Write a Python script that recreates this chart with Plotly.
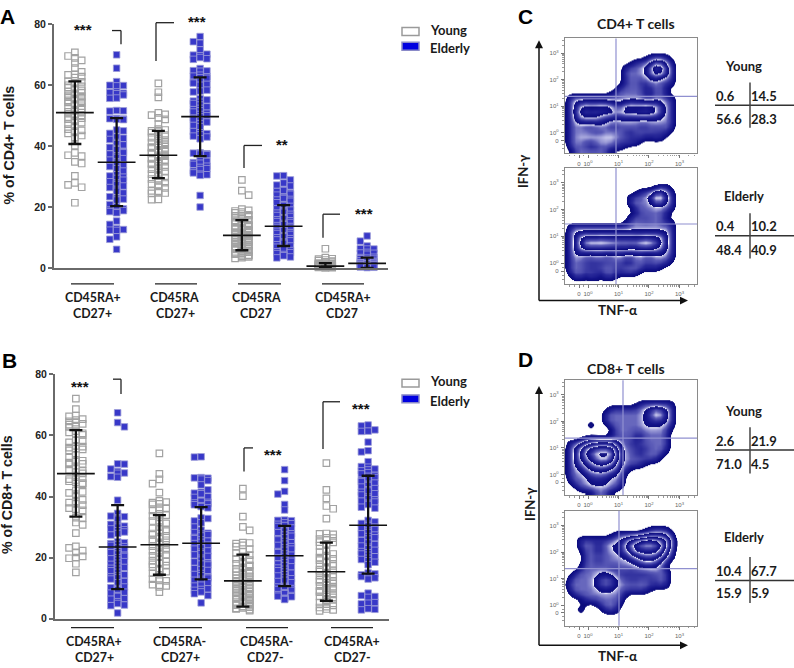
import math
import plotly.graph_objects as go

W, H = 794, 668

# ---------- Panel A values (% of CD4+ T cells) ----------
A1_young = [70.8,69.6,69.0,68.2,67.3,65.6,64.4,63.6,63.4,62.8,62.5,61.3,61.1,60.8,60.5,60.0,59.6,59.3,59.0,58.6,58.3,58.0,57.6,57.3,57.0,56.7,56.4,56.1,55.9,55.7,55.5,55.3,55.0,54.7,54.4,54.1,53.8,53.4,53.1,52.7,52.3,52.0,51.6,51.3,51.0,50.7,50.4,50.1,49.8,49.5,49.2,48.9,48.5,48.1,47.7,47.2,46.6,45.6,45.2,44.9,44.5,44.2,43.5,42.9,42.7,40.2,37.8,37.0,36.7,34.8,34.3,30.2,27.9,27.3,26.5,21.4]
A1_elderly = [70.0,65.6,61.2,60.0,59.9,59.8,57.8,57.6,57.4,57.2,56.8,55.8,55.7,51.7,51.6,51.5,49.1,49.0,48.9,48.8,48.7,45.3,45.0,44.2,43.0,42.6,42.2,41.2,40.8,40.4,39.6,39.2,38.8,38.2,37.8,37.4,36.8,36.3,35.9,35.4,34.9,34.4,33.8,33.3,32.6,31.8,30.6,30.2,29.8,29.4,28.8,28.3,27.9,27.4,26.9,26.4,25.8,25.2,24.6,23.4,22.9,22.6,22.3,20.8,20.1,19.4,19.2,19.0,18.8,18.5,18.3,18.1,15.4,14.3,12.9,12.6,12.4,12.3,10.2,9.4,6.1]
A2_young = [60.6,57.7,56.0,50.9,50.4,50.2,49.3,48.8,47.2,45.6,45.3,45.0,44.8,44.4,44.0,43.6,43.2,42.8,42.4,42.0,41.6,41.2,40.9,40.6,40.3,40.0,39.7,39.4,39.1,38.8,38.5,38.2,37.9,37.6,37.3,37.0,36.7,36.4,36.1,35.8,35.5,35.2,34.9,34.6,34.3,34.0,33.6,33.2,32.8,32.4,32.0,31.6,31.2,30.8,30.2,29.7,29.2,28.6,28.0,27.6,27.2,26.8,26.3,25.3,25.2,25.0,24.6,24.5,22.5,22.4]
A2_elderly = [76.0,74.3,73.8,71.6,70.2,69.9,69.7,69.1,68.7,68.5,65.5,64.8,64.7,64.6,63.3,63.0,62.8,62.5,62.3,61.3,61.0,60.7,60.3,60.0,58.4,58.1,57.8,55.6,55.2,54.8,54.4,54.0,53.5,52.9,52.4,52.0,51.6,51.2,50.8,50.4,50.0,49.6,49.2,48.8,48.4,47.9,47.4,46.8,46.4,44.8,44.4,44.1,43.7,43.3,43.0,42.4,37.8,37.7,37.5,37.4,37.2,35.2,35.0,34.6,34.4,34.0,33.4,33.0,32.6,32.3,31.8,31.2,30.8,30.6,30.4,23.8,20.0]
A3_young = [28.9,25.4,23.9,19.3,18.9,18.7,18.3,18.1,17.7,17.4,17.1,16.7,16.5,16.0,15.8,15.4,15.2,14.8,14.6,14.2,13.9,13.7,13.3,13.0,12.8,12.4,12.2,11.8,11.5,11.3,10.9,10.7,10.3,10.0,9.8,9.4,9.2,8.8,8.5,8.3,7.9,7.6,7.4,7.0,6.7,6.5,6.1,5.8,5.6,5.2,4.9,4.7,4.3,4.0,3.8,3.4,3.1,11.6,10.2,9.0,8.1,7.2,12.9,13.5,6.3,5.0,4.5,14.1,13.1,12.6,12.0,11.1,10.5,9.6,8.9,8.6,7.8,7.1,6.9,6.2,5.4,4.8,4.2,15.1,15.6,16.3,17.2,3.6]
A3_elderly = [30.3,30.2,28.9,27.9,27.2,26.9,25.6,25.4,25.1,24.6,24.2,23.9,23.2,22.8,22.5,22.3,21.9,21.4,20.8,20.5,20.2,19.4,19.0,18.7,18.3,18.0,17.6,17.2,16.9,16.5,16.2,15.8,15.5,15.2,14.9,14.6,14.2,13.9,13.6,13.3,13.0,12.6,12.3,12.0,11.6,11.3,11.0,10.6,10.2,9.9,9.6,9.2,8.9,8.5,8.1,7.6,7.2,6.8,6.4,6.0,5.7,5.3,5.0,4.7,4.4,4.0,3.6,3.3]
A4_young = [6.3,3.4,3.0,2.9,2.6,2.4,2.2,2.0,1.9,1.8,1.6,1.5,1.4,1.3,1.2,1.1,1.0,0.9,0.9,0.8,0.8,0.7,0.7,0.6,0.6,0.5,0.5,0.4,0.4,0.4,0.3,0.3,0.3,0.2,0.2,0.2,0.1,0.1]
A4_elderly = [10.5,8.8,7.2,6.3,6.2,6.2,5.1,4.9,4.8,4.5,3.5,3.4,3.2,3.0,2.9,2.7,2.5,2.3,2.2,2.0,1.9,1.7,1.6,1.5,1.4,1.3,1.2,1.1,1.0,0.9,0.8,0.7,0.6,0.5,0.4,0.3,0.2,0.1]

# ---------- Panel B values (% of CD8+ T cells) ----------
B1_young = [72.0,68.6,66.5,66.2,65.3,65.0,64.6,64.2,63.8,63.5,63.2,62.8,61.4,61.0,60.7,60.5,60.2,58.4,58.1,57.7,56.6,56.3,56.0,55.7,55.4,55.1,53.6,52.7,52.0,51.7,51.4,51.1,50.7,50.5,49.0,48.7,48.4,48.0,47.6,46.3,46.0,45.7,45.4,45.0,44.7,44.4,44.0,42.0,41.5,41.2,40.8,40.3,38.9,38.4,38.0,37.6,37.2,36.2,35.9,35.7,35.5,33.1,33.0,31.5,30.7,28.0,23.7,23.2,22.3,21.7,20.4,20.0,19.8,18.0,15.2]
B1_elderly = [67.4,64.2,62.8,50.7,50.6,49.0,48.2,47.7,47.6,46.5,46.3,38.8,34.5,33.6,33.4,33.0,32.6,30.9,30.6,30.3,30.0,29.4,29.1,28.8,28.4,27.9,27.4,25.2,24.9,24.6,24.3,24.0,23.6,23.2,22.8,22.2,21.9,21.6,21.2,20.8,20.4,20.0,19.6,19.2,18.7,18.2,17.8,17.2,16.8,16.5,16.2,15.7,15.2,14.4,14.0,13.7,13.4,13.0,12.2,11.8,10.4,10.2,9.9,9.5,8.7,8.4,7.6,7.3,6.6,6.4,5.6,5.0,4.5,4.3,1.9]
B2_young = [54.1,47.4,45.6,44.2,41.3,38.6,38.2,38.0,37.6,37.4,36.2,35.9,35.5,34.3,33.9,33.7,33.2,32.0,31.6,31.2,30.0,29.6,29.3,29.0,28.7,28.3,27.9,27.5,27.1,26.8,26.4,26.0,25.7,25.3,25.0,24.6,24.2,23.8,23.4,23.0,22.6,22.2,21.8,21.4,21.0,20.6,20.2,19.0,18.7,18.4,18.1,17.8,17.4,16.9,16.4,15.9,15.4,14.9,14.4,13.0,12.7,12.4,11.2,11.0,10.8,10.4,8.7]
B2_elderly = [53.0,52.9,46.2,46.1,46.0,45.7,45.2,43.8,42.2,41.4,41.1,40.9,39.9,39.7,38.6,38.4,38.1,37.9,37.6,37.3,37.0,36.7,36.3,33.0,32.8,32.0,31.4,30.0,29.0,28.2,28.0,27.7,27.5,27.1,26.6,26.2,25.8,25.4,25.0,24.6,24.1,23.7,23.2,22.8,22.2,21.8,21.3,20.9,20.4,19.8,19.2,18.6,18.2,17.9,17.6,16.4,16.1,15.8,14.8,14.5,14.1,13.7,13.3,12.9,12.6,12.3,11.8,11.0,10.7,9.8,9.6,9.3,8.8,8.2,7.6,5.2]
B3_young = [42.6,40.1,33.4,30.1,28.9,24.9,24.8,24.6,24.0,23.6,22.8,22.0,21.5,20.8,20.4,20.1,19.6,19.2,18.7,18.4,18.0,17.5,17.2,16.8,16.3,16.0,15.7,15.3,15.1,14.8,14.4,14.2,13.9,13.5,13.3,13.0,12.6,12.4,12.1,11.7,11.5,11.2,10.8,10.6,10.3,9.9,9.7,9.4,9.0,8.8,8.5,8.1,7.9,7.6,7.2,7.0,6.7,6.3,6.1,5.8,5.4,5.2,4.9,4.5,4.3,4.0,3.6,3.4,3.0,2.7,9.2,8.3,7.4,6.5,5.6,4.7,3.8,10.1,11.0,6.9,5.0,4.1,3.2]
B3_elderly = [48.8,45.2,41.7,40.8,37.4,35.6,32.3,32.2,32.1,31.4,31.1,30.9,30.5,30.2,29.7,29.3,28.7,28.2,27.8,27.4,27.0,26.5,26.2,25.8,25.3,24.9,24.4,24.0,23.6,23.2,22.8,22.4,22.0,21.6,21.2,20.8,20.4,20.0,19.6,19.2,18.8,18.3,17.9,17.4,17.0,16.6,16.2,15.7,15.3,14.9,14.4,14.0,13.5,13.1,12.6,12.2,11.8,10.6,10.4,10.2,9.9,9.6,9.3,8.5,8.2,7.9,7.6,7.4,7.2,6.7,6.5,6.3]
B4_young = [50.9,42.2,39.4,36.9,36.0,32.8,27.9,27.8,27.6,26.5,26.4,26.1,25.8,25.1,25.0,24.5,24.2,23.9,22.1,21.7,21.2,20.7,20.4,20.0,19.6,19.2,18.8,18.4,18.0,17.6,17.3,16.9,16.5,16.1,15.8,15.4,15.1,14.8,14.4,14.1,13.7,13.4,13.0,12.7,12.4,12.1,11.8,11.5,11.1,10.8,10.5,10.1,9.8,9.4,9.1,8.7,8.4,8.0,7.7,7.3,7.0,6.6,6.2,5.8,5.3,4.8,4.4,4.0,3.7,3.2,2.9,2.6]
B4_elderly = [63.4,63.1,61.8,61.4,61.3,57.8,55.0,54.6,51.4,49.8,49.6,49.0,48.7,48.4,47.8,47.4,46.9,46.6,46.2,45.8,45.3,44.9,44.4,44.0,43.6,43.1,42.6,42.2,41.8,41.4,40.9,40.5,39.8,39.3,38.9,38.5,38.2,37.8,37.4,36.5,36.2,32.2,31.7,31.2,30.9,30.4,30.0,29.6,29.2,28.7,28.2,27.8,27.4,26.9,26.5,26.1,25.6,24.8,24.3,23.8,23.4,22.9,22.4,22.0,21.6,21.2,20.8,20.3,19.8,19.4,19.0,18.5,17.7,15.0,14.7,14.4,14.1,13.8,13.4,13.0,8.4,7.6,7.3,7.0,5.3,5.1,4.9,3.3,3.1,2.9]

A_series = [A1_young, A1_elderly, A2_young, A2_elderly, A3_young, A3_elderly, A4_young, A4_elderly]
B_series = [B1_young, B1_elderly, B2_young, B2_elderly, B3_young, B3_elderly, B4_young, B4_elderly]

# mean, upper whisker, lower whisker per group
A_mean = [51.0, 34.7, 37.0, 49.7, 10.7, 13.7, 0.6, 1.5]
A_high = [61.3, 49.2, 45.0, 62.6, 15.7, 20.6, 1.6, 3.4]
A_low  = [40.7, 20.3, 29.5, 36.7, 5.8, 7.2, 0.0, 0.0]
B_mean = [47.5, 23.5, 24.2, 24.7, 12.4, 20.6, 15.4, 30.6]
B_high = [61.7, 37.2, 33.9, 36.5, 21.0, 30.4, 24.9, 46.8]
B_low  = [33.4, 9.7, 14.4, 12.9, 4.0, 10.7, 5.9, 14.8]

A_labels = [("CD45RA+", "CD27+"), ("CD45RA", "CD27+"), ("CD45RA", "CD27"), ("CD45RA+", "CD27")]
B_labels = [("CD45RA+", "CD27+"), ("CD45RA-", "CD27+"), ("CD45RA-", "CD27-"), ("CD45RA+", "CD27-")]

C_young_pct = ["0.6", "14.5", "56.6", "28.3"]
C_elderly_pct = ["0.4", "10.2", "48.4", "40.9"]
D_young_pct = ["2.6", "21.9", "71.0", "4.5"]
D_elderly_pct = ["10.4", "67.7", "15.9", "5.9"]

# ---------- flow cytometry density levels, top row first, one digit per cell ----------
C_young_density = [
"000000000000000000000000000","000000000000000000000000000","000000000000000000000000000","000000000000000000000000000",
"000000000000000002222000000",
"000000000000002223442200000",
"000000000000222234764200000",
"000000000000222234654200000",
"000000000000222223322200000",
"000000000000122112221200000",
"000000000002222211221000000",
"000000000022222211221000000",
"022222222222222211221200000",
"023333333322333333332200000",
"023565565544565565542200000",
"023655656645656666542200000",
"023555543333333333332200000",
"022333333222222222222200000",
"022211222112222112222200000",
"022222112222112222112000000",
"022333333332211211220000000",
"022211222211222000000000000",
"022221122222000000000000000",
"002222222000000000000000000"]
C_elderly_density = [
"000000000000000000000000000","000000000000000000000000000","000000000000000000000000000","000000000000000000000000000",
"000000000000000000022000000",
"000000000000000222442200000",
"000000000000022224664200000",
"000000000000022222442200000",
"000000000000002222222200000",
"000000000000000222221000000",
"000000000000022212221000000",
"000000000000022222221200000",
"022222222222222222222200000",
"023333333333333333333200000",
"023565565656565565653200000",
"023578787776767787653200000",
"023565656565655656553200000",
"023333333333333333332200000",
"022211221122112211222200000",
"022222112222112222222000000",
"022211222211222211200000000",
"022222112222222000000000000",
"002202202200000000000000000",
"000000000000000000000000000"]
D_young_density = [
"000000000000000000000000000","000000000000000000000000000","000000000000000000000000000","000000000000000000000000000","000000000000000000000000000",
"000000000000000222222200000",
"000000000222222233533200000",
"000000002222222234663200000",
"000000002222222233333200000",
"000003000222222233332200000",
"000000000022222222222000000",
"000000000022221122222000000",
"000022222221221122222000000",
"022345666642211222222000000",
"023577888863222112222000000",
"023578999973221122220000000",
"023567899863222222200000000",
"023456777653222200000000000",
"022345565542200000000000000",
"022234444332000000000000000",
"022223333222000000000000000",
"002223333222000000000000000",
"000222222220000000000000000",
"000000222000000000000000000"]
D_elderly_density = [
"000000000000000000000000000","000000000000000000000000000","000000000000000000000000000","000000000000000000000000000",
"000000000000000002222000000",
"000000000022222233333200000",
"000222222223457788775300000",
"000222112333577999975300000",
"000022112233467777764200000",
"000022222223345666653200000",
"000022112222233455432000000",
"000022222222223333320000000",
"000222222112211222222000000",
"002222233321122112222000000",
"022222344432211221122000000",
"022222344432222222222000000",
"022222233322222220000000000",
"002222222222000000000000000",
"000022222222000000000000000",
"000000022220000000000000000",
"000300002220000000000000000",
"000000000000000000000000000",
"000000000000000000000000000",
"000000000000000000000000000"]

FONT_TXT = "Lato"
FONT_NUM = "Liberation Sans"
NAVY, LIGHT, PEAK = "#0c0c7c", "#c2c2ea", "#f6f6ff"
ELDERLY_FILL, ELDERLY_EDGE = "#3838c8", "#9c9cd8"
YOUNG_EDGE = "#a2a2a2"

def px(x):
    return x / W

def py(y):
    return 1 - y / H

def dodge(values, units_per_px, step=3.4, limit=10.2, keep_x=5.6, keep_y=5.4):
    """Beeswarm layout: horizontal offset in pixels for each value."""
    placed = []
    n = int(limit / step)
    cands = [0.0]
    for k in range(1, n + 1):
        cands += [k * step, -k * step]
    order = sorted(range(len(values)), key=lambda i: -values[i])
    offs = [0.0] * len(values)
    flip = 1
    for i in order:
        yp = values[i] / units_per_px
        best, best_hits = None, None
        for c in cands:
            c = c * flip
            hits = sum(1 for (ox, oy) in placed if abs(ox - c) < keep_x and abs(oy - yp) < keep_y)
            if best_hits is None or hits < best_hits:
                best, best_hits = c, hits
            if hits == 0:
                break
        flip = -flip
        offs[i] = best
        placed.append((best, yp))
    return offs

def soften(rows):
    g = [[int(c) for c in r] for r in rows]
    nr, nc = len(g), len(g[0])
    h = [[(g[j][max(i-1, 0)] + 2*g[j][i] + g[j][min(i+1, nc-1)]) / 4 for i in range(nc)] for j in range(nr)]
    return [[(h[max(j-1, 0)][i] + 2*h[j][i] + h[min(j+1, nr-1)][i]) / 4 for i in range(nc)] for j in range(nr)]

fig = go.Figure()
shapes, annots = [], []

def line(x0, y0, x1, y1, color="#222222", width=1.5):
    shapes.append(dict(type="line", xref="paper", yref="paper", x0=px(x0), y0=py(y0), x1=px(x1), y1=py(y1),
                       line=dict(color=color, width=width), layer="above"))

def rect(x0, y0, x1, y1, fill, edge, width=1.5):
    shapes.append(dict(type="rect", xref="paper", yref="paper", x0=px(x0), y0=py(y0), x1=px(x1), y1=py(y1),
                       fillcolor=fill, line=dict(color=edge, width=width), layer="above"))

def text(x, y, s, size=13, family=FONT_TXT, color="#1a1a1a", bold=True, xanchor="center", angle=0):
    annots.append(dict(xref="paper", yref="paper", x=px(x), y=py(y), text=s, showarrow=False, xanchor=xanchor,
                       yanchor="middle", textangle=angle, borderpad=0, borderwidth=0,
                       font=dict(family=family, size=size, color=color, weight="bold" if bold else "normal")))

def tri(points, color="#111111"):
    d = "M " + " L ".join(f"{px(a)},{py(b)}" for a, b in points) + " Z"
    shapes.append(dict(type="path", xref="paper", yref="paper", path=d, fillcolor=color, line=dict(width=0), layer="above"))

layout = {}

def swarm_panel(idx, series, mean, high, low, left, right, top, bottom):
    xa, ya = f"x{idx}", f"y{idx}"
    unit_px = (right - left) / 8.0
    units_per_px = 80.0 / (bottom - top)
    for g, vals in enumerate(series):
        young = g % 2 == 0
        offs = dodge(vals, units_per_px, keep_y=4.8 if young else 5.6)
        xs = [g + 1 + o / unit_px for o in offs]
        marker = (dict(symbol="square-open", size=6.5, color=YOUNG_EDGE, line=dict(color=YOUNG_EDGE, width=1.2))
                  if young else
                  dict(symbol="square", size=6.5, color=ELDERLY_FILL, line=dict(color=ELDERLY_EDGE, width=0.8)))
        fig.add_trace(go.Scatter(x=xs, y=vals, mode="markers", marker=marker, xaxis=xa, yaxis=ya,
                                 name="Young" if young else "Elderly", showlegend=False, cliponaxis=False))
    gx = [g + 1 for g in range(8)]
    fig.add_trace(go.Scatter(x=gx, y=mean, mode="markers", xaxis=xa, yaxis=ya, showlegend=False, cliponaxis=False,
                             marker=dict(symbol="line-ew", size=27, color="#111111", line=dict(color="#111111", width=1.6)),
                             error_y=dict(type="data", symmetric=False,
                                          array=[h - m for h, m in zip(high, mean)],
                                          arrayminus=[m - l for m, l in zip(mean, low)],
                                          thickness=2.3, width=6.5, color="#111111")))
    layout[f"xaxis{idx}"] = dict(domain=[px(left), px(right)], range=[0.5, 8.5], anchor=ya, showgrid=False, zeroline=False,
                                 showticklabels=False, ticks="", showline=True, linecolor="#6a6a6a", linewidth=2)
    layout[f"yaxis{idx}"] = dict(domain=[py(bottom), py(top)], range=[0, 80], anchor=xa, showgrid=False, zeroline=False,
                                 tickvals=[0, 20, 40, 60, 80], ticks="outside", ticklen=4, tickwidth=2, tickcolor="#6a6a6a",
                                 showline=True, linecolor="#6a6a6a", linewidth=2,
                                 tickfont=dict(family=FONT_NUM, size=10.5, color="#222222", weight="bold"))

swarm_panel(1, A_series, A_mean, A_high, A_low, 54, 388, 18.7, 266.7)
swarm_panel(2, B_series, B_mean, B_high, B_low, 55, 389, 375, 624)

# sawtooth colour scale: navy rising to pale, a white contour line, navy again
ZMAX = 9.0
stops = [(0, "#ffffff"), (0.46, "#ffffff"), (0.5, NAVY)]
edges = [0.5, 2.5, 4.5, 6.5, 8.5]
for a, b in zip(edges, edges[1:]):
    stops += [(a + 0.01, NAVY), (a + 0.4, "#14148a"), (a + 0.9, "#2a2a9a"), (a + 1.45, "#5c5cb8"),
              (b - 0.08, LIGHT), (b - 0.02, PEAK), (b, PEAK)]
stops += [(8.51, NAVY), (9.0, "#3a3aa6")]
colorscale = [[p / ZMAX, c] for p, c in stops]

log_minor = [n + math.log10(k) for n in range(0, 4) for k in range(2, 10)]
minor_vals = [v for v in log_minor if v < 3.5] + [-0.6, -0.45, -0.15]

def flow_panel(idx, rows, left, right, top, bottom, vx, hy):
    xa, ya = f"x{idx}", f"y{idx}"
    z = soften(rows)[::-1]
    fig.add_trace(go.Heatmap(z=z, x0=-0.754, dx=0.164, y0=-0.704, dy=0.185, xaxis=xa, yaxis=ya, zmin=0, zmax=ZMAX,
                             colorscale=colorscale, zsmooth="best", showscale=False, hoverinfo="skip"))
    tv = [-0.295, 0, 1, 2, 3]
    tt = ["0", "10<sup>0</sup>", "10<sup>1</sup>", "10<sup>2</sup>", "10<sup>3</sup>"]
    common = dict(showgrid=False, zeroline=False, ticks="outside", ticklen=3, tickwidth=1, tickcolor="#777777",
                  showline=True, mirror=True, linecolor="#8a8a8a", linewidth=1.4,
                  tickvals=tv, ticktext=tt, tickfont=dict(family=FONT_NUM, size=6, color="#666666"), ticklabelstandoff=1,
                  minor=dict(ticks="outside", ticklen=1.5, tickwidth=0.7, tickcolor="#999999", tickvals=minor_vals))
    layout[f"xaxis{idx}"] = dict(domain=[px(left), px(right)], range=[-0.754, 3.574], anchor=ya, **common)
    layout[f"yaxis{idx}"] = dict(domain=[py(bottom), py(top)], range=[-0.778, 3.556], anchor=xa, **common)
    line(vx, top, vx, bottom, color="#9090d0", width=1.2)
    line(left, hy, right, hy, color="#9090d0", width=1.2)

flow_panel(3, C_young_density, 565, 697, 33, 150, 616, 92)
flow_panel(4, C_elderly_density, 565, 697, 165, 283, 616, 222)
flow_panel(5, D_young_density, 565, 697, 381, 498, 623, 440)
flow_panel(6, D_elderly_density, 565, 697, 514, 631, 619, 573)

# panel letters
text(7, 11, "A", size=21, family=FONT_NUM, color="#000000")
text(9, 361, "B", size=21, family=FONT_NUM, color="#000000")
text(525, 11, "C", size=21, family=FONT_NUM, color="#000000")
text(525, 360, "D", size=21, family=FONT_NUM, color="#000000")

# y titles
text(9, 142, "% of CD4+ T cells", size=14.2, family=FONT_NUM, angle=-90)
text(7, 498, "% of CD8+ T cells", size=14.2, family=FONT_NUM, angle=-90)

# group underlines and labels
for (x0, x1), (cx1, cx2), (l1, l2) in zip([(71, 114), (155, 197), (238, 281), (322, 364)],
                                          [(93, 92), (174, 175), (256, 256), (343, 342)], A_labels):
    line(x0, 283, x1, 283, color="#222222", width=1.3)
    text(cx1, 297, l1, size=12.4)
    text(cx2, 313, l2, size=12.4)
for (x0, x1), (cx1, cx2), (l1, l2) in zip([(71, 114), (159, 202), (246, 288), (331, 373)],
                                          [(94, 94), (179, 180), (266, 265), (352, 352)], B_labels):
    line(x0, 633, x1, 633, color="#222222", width=1.3)
    text(cx1, 647, l1, size=12.4)
    text(cx2, 663, l2, size=12.4)

# brackets
for pts in ([(112, 25), (121, 25), (121, 39)], [(156, 56), (156, 17), (174, 17)],
            [(244, 165), (244, 142), (262, 142)], [(323, 236), (323, 212), (340, 212)],
            [(113, 380), (121, 380), (121, 395)], [(244, 474), (244, 450), (253, 450)],
            [(323, 451), (323, 403), (340, 403)]):
    for a, b in zip(pts, pts[1:]):
        line(a[0], a[1], b[0], b[1], color="#222222", width=1.3)
for x, y, s in [(83, 21, "***"), (197, 13, "***"), (282, 138, "**"), (364, 208, "***"),
                (80, 384, "***"), (273, 454, "***"), (361, 407, "***")]:
    text(x, y + 3, s, size=15, family=FONT_NUM, color="#111111")

# legends
for y1, y2 in [(26, 41), (384, 400)]:
    rect(402, y1 - 4, 419, y1 + 4, "#ffffff", "#9a9a9a")
    rect(402, y2 - 4, 419, y2 + 4, "#0000e0", "#8a8ac8")
    text(430, y1 - 2, "Young", xanchor="left")
    text(430, y2 + 2, "Elderly", xanchor="left")

# flow titles and axis arrows
text(636, 18, "CD4+ T cells", size=14)
text(626, 369, "CD8+ T cells", size=14)
for y_top, y_base, tx_y in [(35, 300, 310), (387, 651, 662)]:
    line(539, y_top + 6, 539, y_base, color="#111111", width=1.5)
    line(539, y_base, 682, y_base, color="#111111", width=1.5)
    tri([(539, y_top), (535, y_top + 8), (543, y_top + 8)])
    tri([(688, y_base), (680, y_base - 4), (680, y_base + 4)])
    text(618, tx_y, "TNF-α", size=13.5)
text(523, 168, "IFN-γ", size=13, angle=-90)
text(530, 507, "IFN-γ", size=13, angle=-90)

# percentage crosses
def cross(title_x, title_y, title, vals, v0, v1, hline, row1, row2):
    text(title_x, title_y, title)
    line(715, hline, 794, hline, color="#333333", width=1.5)
    line(750, v0, 750, v1, color="#444444", width=1.5)
    text(716, row1, vals[0], xanchor="left")
    text(750.5, row1, vals[1], xanchor="left")
    text(716, row2, vals[2], xanchor="left")
    text(750.5, row2, vals[3], xanchor="left")

cross(743, 61, "Young", C_young_pct, 78, 124, 101, 92, 115)
cross(744, 193, "Elderly", C_elderly_pct, 211, 257, 234, 224, 248)
cross(743, 412, "Young", D_young_pct, 429, 476, 452, 443, 466)
cross(744, 541, "Elderly", D_elderly_pct, 561, 608, 585, 575, 598)

fig.update_layout(width=W, height=H, autosize=False, margin=dict(l=0, r=0, t=0, b=0),
                  paper_bgcolor="white", plot_bgcolor="rgba(0,0,0,0)", showlegend=False,
                  shapes=shapes, annotations=annots, **layout)

fig.write_html("out.html", config=dict(displayModeBar=False),
               post_script="document.body.style.margin='0';document.body.style.overflow='hidden';")
